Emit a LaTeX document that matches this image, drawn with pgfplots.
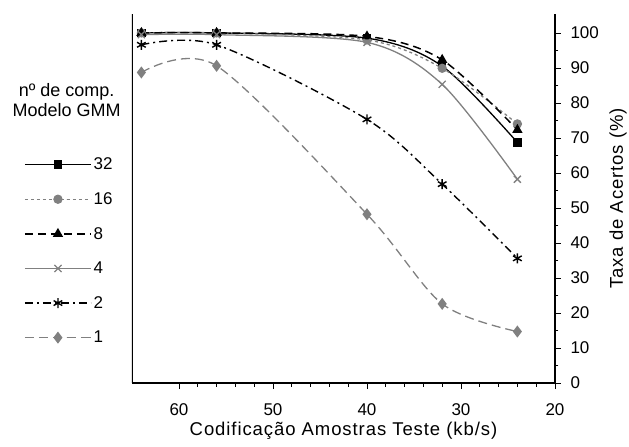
\documentclass[border=0pt]{standalone}
\usepackage{fontspec}
\setmainfont{Liberation Sans}
\newfontfamily\labfont[LetterSpace=5]{Liberation Sans}
\usepackage{pgfplots}
\pgfplotsset{compat=1.18}
\definecolor{grey}{RGB}{128,128,128}

\begin{document}
\begin{tikzpicture}
\begin{axis}[
    scale only axis,
    width=423bp, height=369bp,
    xmin=20, xmax=65, ymin=0, ymax=105.4,
    x dir=reverse,
    axis x line*=bottom, axis y line*=right,
    axis line style={line width=1.1bp, -},
    xtick={20,30,...,60}, minor x tick num=4,
    ytick={0,10,...,100}, minor y tick num=1,
    tick align=outside,
    major tick length=6bp, minor tick length=3.5bp,
    tick style={black, line width=0.8bp},
    /pgf/number format/assume math mode=true,
    ticklabel style={font=\fontsize{17bp}{20bp}\selectfont},
    xticklabel style={yshift=-11bp},
    yticklabel style={xshift=6bp},
    xlabel={Codificação Amostras Teste (kb/s)},
    ylabel={Taxa de Acertos (\%)},
    label style={font=\labfont\fontsize{18.5bp}{22bp}\selectfont},
    xlabel style={at={(axis description cs:0.5,0)}, anchor=base, yshift=-52bp},
    ylabel style={at={(axis description cs:1,0.5)}, anchor=center, yshift=-63bp},
    legend style={at={(axis description cs:-0.2553,0.616)}, anchor=north west,
        draw=none, fill=none, inner sep=0pt, row sep=17.3bp,
        font=\fontsize{17bp}{20bp}\selectfont,
        nodes={inner xsep=2bp, inner ysep=2bp}},
    legend cell align=left,
    legend image code/.code={
        \draw[mark repeat=2, mark phase=2, #1] plot coordinates {(0bp,0bp) (33bp,0bp) (66bp,0bp)};
    },
    every axis plot/.append style={line width=1.3bp, smooth},
]
\addplot[black, mark=square*, mark size=3.5bp, mark options={solid}]
    coordinates {(64,100) (56,100) (40,98.5) (32,90.5) (24,68.7)};
\addlegendentry{32}
\addplot[grey, dash pattern=on 3bp off 3bp, mark=*, mark size=4bp, mark options={solid, fill=grey}]
    coordinates {(64,100) (56,100) (40,98) (32,89.9) (24,74)};
\addlegendentry{16}
\addplot[black, line width=1.5bp, dash pattern=on 8bp off 5bp, mark=triangle*, mark size=4.5bp, mark options={solid}]
    coordinates {(64,100) (56,100) (40,99) (32,92.3) (24,72.3)};
\addlegendentry{8}
\addplot[grey, mark=x, mark size=5bp, mark options={solid}]
    coordinates {(64,99.5) (56,99.5) (40,97.3) (32,85.3) (24,58.2)};
\addlegendentry{4}
\addplot[black, line width=1.4bp, dash pattern=on 8bp off 4bp on 2bp off 4bp, mark=asterisk, mark size=5bp, mark options={solid}]
    coordinates {(64,96.6) (56,96.6) (40,75.3) (32,56.8) (24,35.6)};
\addlegendentry{2}
\addplot[grey, dash pattern=on 9bp off 5bp, mark=diamond*, mark size=5bp, mark options={solid, fill=grey}]
    coordinates {(64,88.7) (56,90.6) (40,48.2) (32,22.6) (24,14.7)};
\addlegendentry{1}
\draw[line width=1.1bp] (axis cs:65,0) -- (axis cs:65,105.4);
\end{axis}
\node[anchor=base, font=\fontsize{18bp}{22bp}\selectfont] at (-65.3bp,286.3bp) {nº de comp.};
\node[anchor=base, font=\fontsize{18bp}{22bp}\selectfont] at (-65.3bp,266.3bp) {Modelo GMM};
\pgfresetboundingbox
\path[use as bounding box] (-132bp,-64bp) rectangle (497bp,383bp);
\end{tikzpicture}
\end{document}
